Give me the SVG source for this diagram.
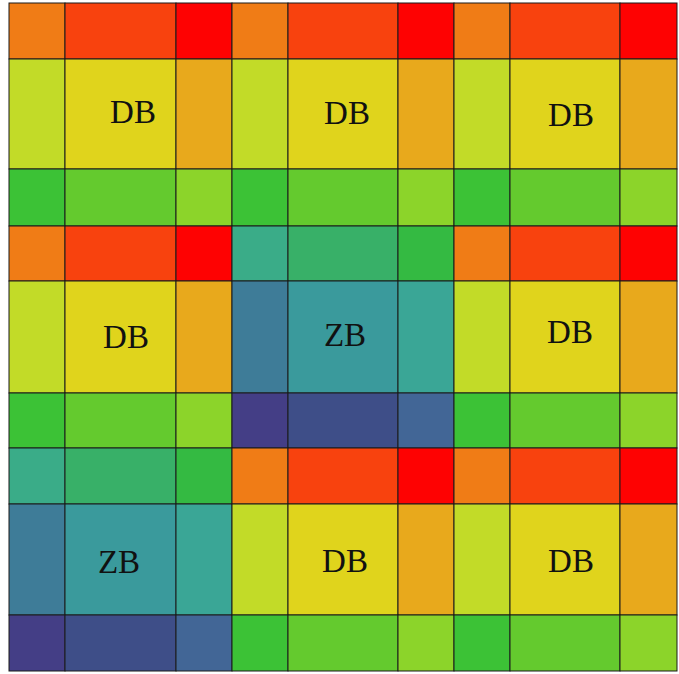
<svg xmlns="http://www.w3.org/2000/svg" width="679" height="674" viewBox="0 0 679 674">
<defs>
<style>
.c rect{stroke:#1a1a1a;stroke-width:1}
.o{fill:#F07C16}.r{fill:#F8420E}.rr{fill:#FE0202}
.yg{fill:#C2DB28}.y{fill:#E0D41C}.oy{fill:#E8A91C}
.g{fill:#3CC236}.mg{fill:#64CA2E}.lg{fill:#8CD42A}
.t1{fill:#3AAC88}.t2{fill:#38B068}.t3{fill:#34BA42}
.t4{fill:#3E7C98}.t5{fill:#3A9A9C}.t6{fill:#3AA696}
.t7{fill:#443E86}.t8{fill:#3E4E88}.t9{fill:#426696}
.c text{font-family:'Liberation Serif','Times New Roman',serif;font-size:33px;fill:#111;text-anchor:middle}
</style>
</defs>
<rect x="0" y="0" width="679" height="674" fill="#ffffff"/>
<g id="b00" class="c">
<rect class="o" x="9" y="3" width="56" height="56"/><rect class="r" x="65" y="3" width="111" height="56"/><rect class="rr" x="176" y="3" width="56" height="56"/>
<rect class="yg" x="9" y="59" width="56" height="110"/><rect class="y" x="65" y="59" width="111" height="110"/><rect class="oy" x="176" y="59" width="56" height="110"/>
<rect class="g" x="9" y="169" width="56" height="57"/><rect class="mg" x="65" y="169" width="111" height="57"/><rect class="lg" x="176" y="169" width="56" height="57"/>
<text x="133" y="123">DB</text>
</g>
<g id="b01" class="c">
<rect class="o" x="232" y="3" width="56" height="56"/><rect class="r" x="288" y="3" width="110" height="56"/><rect class="rr" x="398" y="3" width="56" height="56"/>
<rect class="yg" x="232" y="59" width="56" height="110"/><rect class="y" x="288" y="59" width="110" height="110"/><rect class="oy" x="398" y="59" width="56" height="110"/>
<rect class="g" x="232" y="169" width="56" height="57"/><rect class="mg" x="288" y="169" width="110" height="57"/><rect class="lg" x="398" y="169" width="56" height="57"/>
<text x="347" y="124">DB</text>
</g>
<g id="b02" class="c">
<rect class="o" x="454" y="3" width="56" height="56"/><rect class="r" x="510" y="3" width="110" height="56"/><rect class="rr" x="620" y="3" width="57" height="56"/>
<rect class="yg" x="454" y="59" width="56" height="110"/><rect class="y" x="510" y="59" width="110" height="110"/><rect class="oy" x="620" y="59" width="57" height="110"/>
<rect class="g" x="454" y="169" width="56" height="57"/><rect class="mg" x="510" y="169" width="110" height="57"/><rect class="lg" x="620" y="169" width="57" height="57"/>
<text x="571" y="126">DB</text>
</g>
<g id="b10" class="c">
<rect class="o" x="9" y="226" width="56" height="55"/><rect class="r" x="65" y="226" width="111" height="55"/><rect class="rr" x="176" y="226" width="56" height="55"/>
<rect class="yg" x="9" y="281" width="56" height="112"/><rect class="y" x="65" y="281" width="111" height="112"/><rect class="oy" x="176" y="281" width="56" height="112"/>
<rect class="g" x="9" y="393" width="56" height="55"/><rect class="mg" x="65" y="393" width="111" height="55"/><rect class="lg" x="176" y="393" width="56" height="55"/>
<text x="126" y="348">DB</text>
</g>
<g id="b11" class="c">
<rect class="t1" x="232" y="226" width="56" height="55"/><rect class="t2" x="288" y="226" width="110" height="55"/><rect class="t3" x="398" y="226" width="56" height="55"/>
<rect class="t4" x="232" y="281" width="56" height="112"/><rect class="t5" x="288" y="281" width="110" height="112"/><rect class="t6" x="398" y="281" width="56" height="112"/>
<rect class="t7" x="232" y="393" width="56" height="55"/><rect class="t8" x="288" y="393" width="110" height="55"/><rect class="t9" x="398" y="393" width="56" height="55"/>
<text x="345" y="346">ZB</text>
</g>
<g id="b12" class="c">
<rect class="o" x="454" y="226" width="56" height="55"/><rect class="r" x="510" y="226" width="110" height="55"/><rect class="rr" x="620" y="226" width="57" height="55"/>
<rect class="yg" x="454" y="281" width="56" height="112"/><rect class="y" x="510" y="281" width="110" height="112"/><rect class="oy" x="620" y="281" width="57" height="112"/>
<rect class="g" x="454" y="393" width="56" height="55"/><rect class="mg" x="510" y="393" width="110" height="55"/><rect class="lg" x="620" y="393" width="57" height="55"/>
<text x="570" y="343">DB</text>
</g>
<g id="b20" class="c">
<rect class="t1" x="9" y="448" width="56" height="56"/><rect class="t2" x="65" y="448" width="111" height="56"/><rect class="t3" x="176" y="448" width="56" height="56"/>
<rect class="t4" x="9" y="504" width="56" height="111"/><rect class="t5" x="65" y="504" width="111" height="111"/><rect class="t6" x="176" y="504" width="56" height="111"/>
<rect class="t7" x="9" y="615" width="56" height="56"/><rect class="t8" x="65" y="615" width="111" height="56"/><rect class="t9" x="176" y="615" width="56" height="56"/>
<text x="119" y="573">ZB</text>
</g>
<g id="b21" class="c">
<rect class="o" x="232" y="448" width="56" height="56"/><rect class="r" x="288" y="448" width="110" height="56"/><rect class="rr" x="398" y="448" width="56" height="56"/>
<rect class="yg" x="232" y="504" width="56" height="111"/><rect class="y" x="288" y="504" width="110" height="111"/><rect class="oy" x="398" y="504" width="56" height="111"/>
<rect class="g" x="232" y="615" width="56" height="56"/><rect class="mg" x="288" y="615" width="110" height="56"/><rect class="lg" x="398" y="615" width="56" height="56"/>
<text x="345" y="572">DB</text>
</g>
<g id="b22" class="c">
<rect class="o" x="454" y="448" width="56" height="56"/><rect class="r" x="510" y="448" width="110" height="56"/><rect class="rr" x="620" y="448" width="57" height="56"/>
<rect class="yg" x="454" y="504" width="56" height="111"/><rect class="y" x="510" y="504" width="110" height="111"/><rect class="oy" x="620" y="504" width="57" height="111"/>
<rect class="g" x="454" y="615" width="56" height="56"/><rect class="mg" x="510" y="615" width="110" height="56"/><rect class="lg" x="620" y="615" width="57" height="56"/>
<text x="571" y="572">DB</text>
</g>
<g id="connectors"/>
</svg>
